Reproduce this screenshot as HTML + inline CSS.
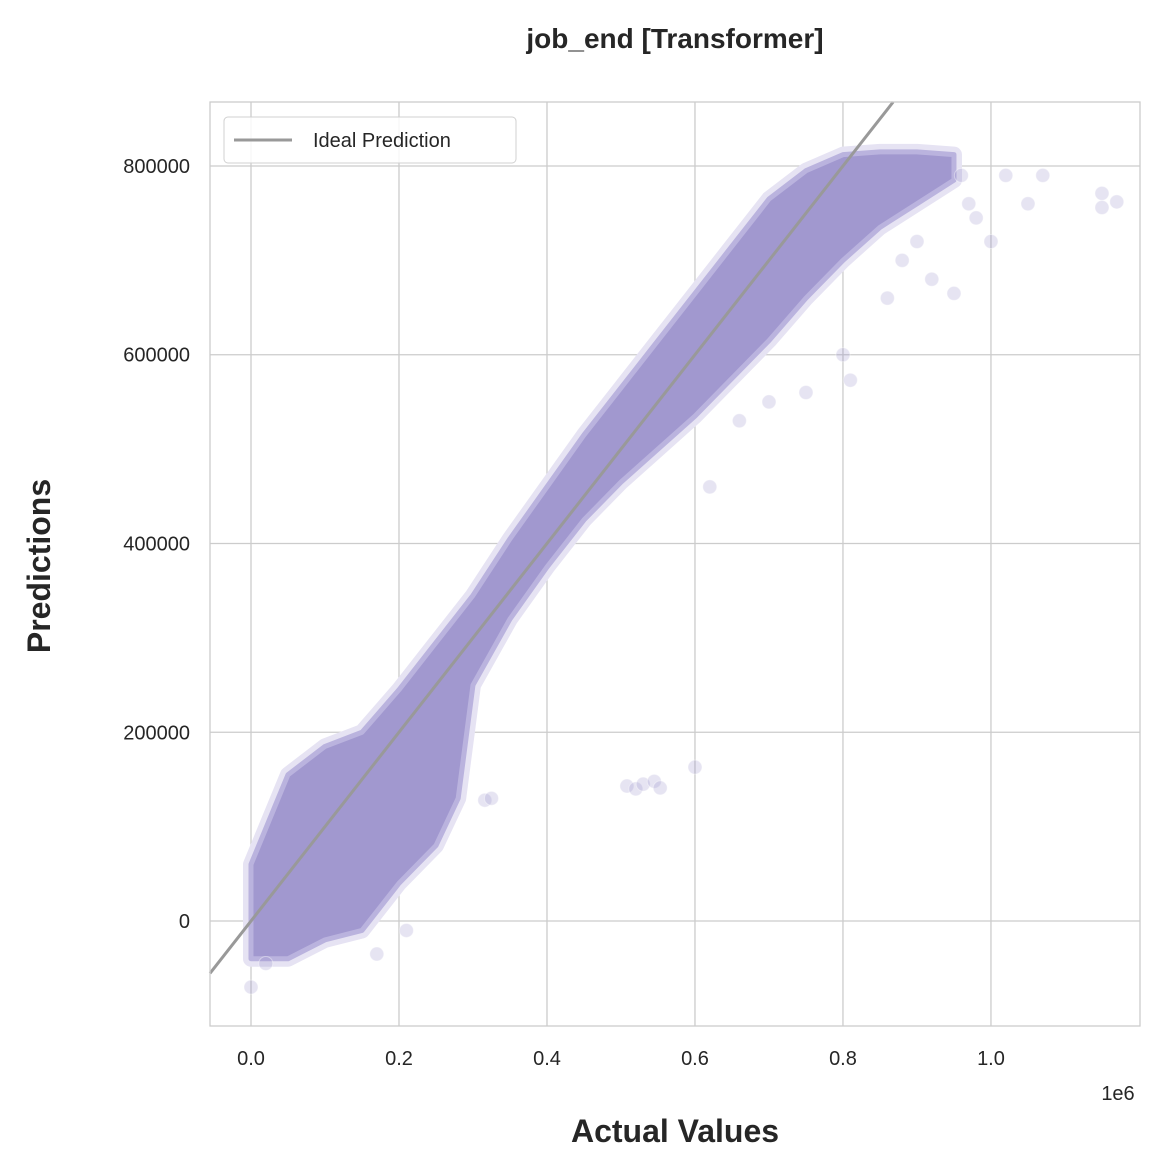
<!DOCTYPE html>
<html>
<head>
<meta charset="utf-8">
<style>
html,body{margin:0;padding:0;background:#fff;}
svg text{font-family:"Liberation Sans",Arial,sans-serif;fill:#262626;}
</style>
</head>
<body>
<svg id="chart" width="1160" height="1170" viewBox="0 0 1160 1170" xmlns="http://www.w3.org/2000/svg">
  <text x="675" y="48" text-anchor="middle" font-size="28" font-weight="bold">job_end [Transformer]</text>
  <g id="grid"></g>
  <g id="marks"></g>
  <g id="ideal"></g>
  <rect x="210" y="102" width="930" height="924" fill="none" stroke="#cccccc" stroke-width="1.3"/>
  <g id="ticks"></g>
  <text x="1118" y="1100" text-anchor="middle" font-size="20">1e6</text>
  <text x="675" y="1142" text-anchor="middle" font-size="32" font-weight="bold">Actual Values</text>
  <text transform="translate(50,566) rotate(-90)" text-anchor="middle" font-size="32" font-weight="bold">Predictions</text>
  <g>
    <rect x="224" y="117" width="292" height="46" rx="4" fill="#fff" fill-opacity="0.85" stroke="#d0d0d0"/>
    <line x1="234" y1="140" x2="292" y2="140" stroke="#999" stroke-width="3"/>
    <text x="313" y="147" font-size="20">Ideal Prediction</text>
  </g>
</svg>
<script>
// data (actual in units of 1e6, predictions raw)
const bandX    = [0.0,  0.05,  0.10,  0.15,  0.20,  0.25,  0.28,  0.30,  0.35,  0.40,  0.45,  0.50,  0.55,  0.60,  0.65,  0.70,  0.75,  0.80,  0.85,  0.90,  0.95];
const bandLow  = [-40000,-40000,-20000,-10000,40000, 80000, 130000,250000,320000,375000,425000,465000,500000,535000,575000,615000,660000,700000,735000,760000,785000];
const bandHigh = [60000, 155000,185000,200000,245000,295000,325000,345000,405000,460000,515000,565000,615000,665000,715000,765000,795000,812000,815000,815000,812000];
const outX = [0.0,0.02,0.17,0.21,0.316,0.325,0.508,0.52,0.53,0.545,0.553,0.60,0.62,0.66,0.70,0.75,0.80,0.81,0.86,0.88,0.92,0.95,0.96,0.97,1.0,1.02,1.05,1.07,1.15,1.17,1.15,0.98,0.90];
const outY = [-70000,-45000,-35000,-10000,128000,130000,143000,140000,145000,148000,141000,163000,460000,530000,550000,560000,600000,573000,660000,700000,680000,665000,790000,760000,720000,790000,760000,790000,771000,762000,756000,745000,720000];
const xTicks = [0.0,0.2,0.4,0.6,0.8,1.0];
const xTickLabels = ["0.0","0.2","0.4","0.6","0.8","1.0"];
const yTicks = [0,200000,400000,600000,800000];
const yTickLabels = ["0","200000","400000","600000","800000"];

const L=210,R=1140,T=102,B=1026;
const xMin=-0.0554,xMax=1.2014,yMin=-111250,yMax=867800;
const sx=v=>L+(v-xMin)/(xMax-xMin)*(R-L);
const sy=v=>B-(v-yMin)/(yMax-yMin)*(B-T);
const NS="http://www.w3.org/2000/svg";
function mk(tag,attrs,parent){const e=document.createElementNS(NS,tag);for(const k in attrs)e.setAttribute(k,attrs[k]);parent.appendChild(e);return e;}

const grid=document.getElementById('grid'),ticks=document.getElementById('ticks');
xTicks.forEach((v,i)=>{
  const g=mk('line',{x1:sx(v),x2:sx(v),y1:T,y2:B,stroke:'#cccccc','stroke-width':1.3},grid);
  
  
  const t=mk('text',{x:sx(v),y:1065,'text-anchor':'middle','font-size':20},ticks);
  t.textContent=xTickLabels[i];
  
  
});
yTicks.forEach((v,i)=>{
  const g=mk('line',{x1:L,x2:R,y1:sy(v),y2:sy(v),stroke:'#cccccc','stroke-width':1.3},grid);
  
  
  const t=mk('text',{x:190,y:sy(v)+7,'text-anchor':'end','font-size':20},ticks);
  t.textContent=yTickLabels[i];
  
  
});

const marks=document.getElementById('marks');
function bandPts(){
  const top=bandX.map((x,i)=>sx(x)+','+sy(bandHigh[i]));
  const bot=bandX.map((x,i)=>sx(x)+','+sy(bandLow[i])).reverse();
  return top.concat(bot).join(' ');
}
const halo=mk('polygon',{points:bandPts(),fill:'#d9d5ec',stroke:'#e6e3f3','stroke-width':16,'stroke-linejoin':'round'},marks);


const core=mk('polygon',{points:bandPts(),fill:'#a198cf',stroke:'#bab3de','stroke-width':5,'stroke-linejoin':'round'},marks);


outX.forEach((x,i)=>{
  const c=mk('circle',{cx:sx(x),cy:sy(outY[i]),r:7,fill:'#8f83c4','fill-opacity':0.22,stroke:'#fff','stroke-opacity':0.4},marks);
  
  
});

const ideal=document.getElementById('ideal');
const lo=xMin*1e6, hi=yMax;
const ln=mk('line',{x1:sx(lo/1e6),y1:sy(lo),x2:sx(hi/1e6),y2:sy(hi),stroke:'#999999','stroke-width':3},ideal);


</script>
</body>
</html>
